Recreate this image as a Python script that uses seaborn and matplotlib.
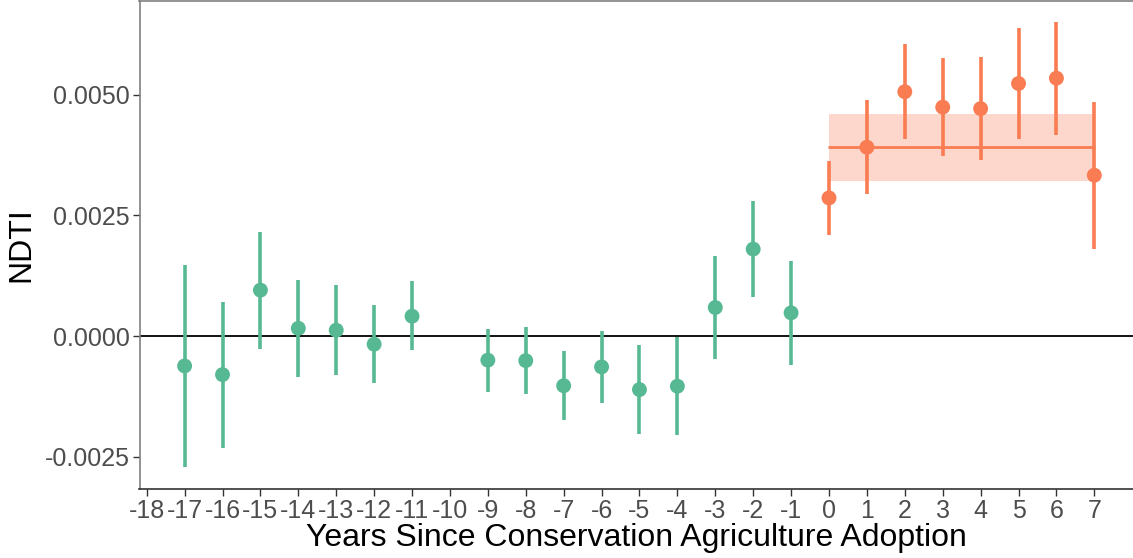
import numpy as np
import pandas as pd
import matplotlib
matplotlib.use("Agg")
import matplotlib.pyplot as plt
import seaborn as sns

# Event-study estimates of NDTI by years since adoption
years = [-17, -16, -15, -14, -13, -12, -11, -9, -8, -7, -6, -5, -4, -3, -2, -1,
         0, 1, 2, 3, 4, 5, 6, 7]
estimate = [-0.00062, -0.00080, 0.00095, 0.00016, 0.00012, -0.00017, 0.00041,
            -0.00050, -0.00051, -0.00103, -0.00064, -0.00111, -0.00104, 0.00059,
            0.00180, 0.00048,
            0.00286, 0.00391, 0.00506, 0.00474, 0.00471, 0.00523, 0.00534, 0.00333]
ci_low = [-0.00272, -0.00232, -0.00026, -0.00084, -0.00081, -0.00098, -0.00030,
          -0.00117, -0.00120, -0.00174, -0.00139, -0.00203, -0.00205, -0.00048,
          0.00080, -0.00060,
          0.00210, 0.00294, 0.00408, 0.00372, 0.00364, 0.00409, 0.00416, 0.00180]
ci_high = [0.00147, 0.00071, 0.00216, 0.00115, 0.00105, 0.00065, 0.00113,
           0.00015, 0.00018, -0.00032, 0.00011, -0.00019, -0.00002, 0.00165,
           0.00279, 0.00155,
           0.00362, 0.00489, 0.00604, 0.00575, 0.00577, 0.00638, 0.00651, 0.00485]

# Pooled post-adoption average and its confidence band
post_mean = 0.00391
post_low = 0.00321
post_high = 0.00460

tick_years = list(range(-18, 8))

df = pd.DataFrame({"year": years, "estimate": estimate,
                   "lo": ci_low, "hi": ci_high})
df["period"] = np.where(df["year"] < 0, "pre", "post")

palette = {"pre": "#57B994", "post": "#FA7C52"}

sns.set_theme(style="white")
plt.rcParams["font.family"] = ["Liberation Sans", "DejaVu Sans"]

fig = plt.figure(figsize=(11.33, 5.58), dpi=100)
ax = fig.add_axes([139.5 / 1133, 1 - 489 / 558, 1 - 139.5 / 1133, (489 - 1) / 558])

# Post-period average band and line
post = df[df["period"] == "post"]
x0, x1 = post["year"].min(), post["year"].max()
ax.fill_between([x0, x1], post_low, post_high, color="#FDD7CC", lw=0, zorder=1)
ax.plot([x0, x1], [post_mean, post_mean], color=palette["post"], lw=2.0, zorder=2)

ax.axhline(0, color="black", lw=1.3, zorder=1.5)

for period, sub in df.groupby("period"):
    ax.vlines(sub["year"], sub["lo"], sub["hi"], color=palette[period],
              lw=2.6, zorder=3)

sns.scatterplot(data=df, x="year", y="estimate", hue="period", palette=palette,
                s=115, linewidth=0, legend=False, ax=ax, zorder=4)

ax.set_xlim(-18.19, 8.02)
ax.set_ylim(-0.003169, 0.006939)
ax.set_xticks(tick_years)
ax.set_xticklabels([str(t) for t in tick_years])
ax.set_yticks([-0.0025, 0.0, 0.0025, 0.0050])
ax.set_yticklabels(["-0.0025", "0.0000", "0.0025", "0.0050"])

ax.tick_params(axis="both", which="major", labelsize=18, labelcolor="#4D4D4D",
               length=5, width=1.0, color="#333333", pad=2, bottom=True, left=True)

ax.set_xlabel("Years Since Conservation Agriculture Adoption", fontsize=23,
              color="black", labelpad=0)
ax.set_ylabel("NDTI", fontsize=23, color="black", labelpad=6)

for side in ["left", "top"]:
    ax.spines[side].set_color("#808080")
    ax.spines[side].set_linewidth(1.2)
ax.spines["bottom"].set_color("#333333")
ax.spines["bottom"].set_linewidth(1.2)
ax.spines["right"].set_visible(False)

fig.savefig("out.png", dpi=100)
